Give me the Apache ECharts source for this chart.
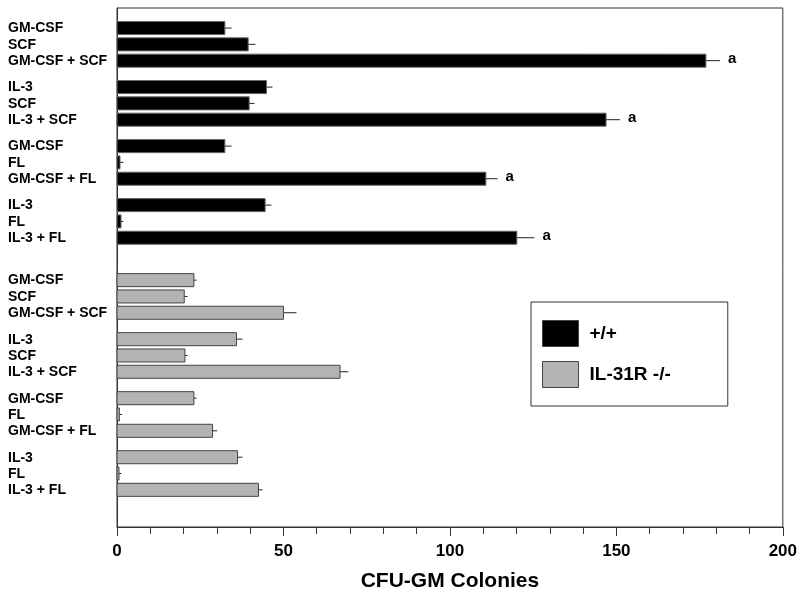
<!DOCTYPE html>
<html>
<head>
<meta charset="utf-8">
<script src="https://cdn.jsdelivr.net/npm/echarts@6/dist/echarts.min.js"></script>
<style>
  html, body { margin: 0; padding: 0; background: #fff; }
  #chart { width: 800px; height: 600px; }
</style>
</head>
<body>
<div id="chart"></div>
<script>
  // row labels, same for both genotypes (4 groups of 3)
  const rowLabels = ['GM-CSF', 'SCF', 'GM-CSF + SCF', 'IL-3', 'SCF', 'IL-3 + SCF',
    'GM-CSF', 'FL', 'GM-CSF + FL', 'IL-3', 'FL', 'IL-3 + FL'];
  const wtValues = [32.4, 39.4, 176.9, 44.9, 39.7, 146.9, 32.4, 0.9, 110.8, 44.5, 1.2, 120.1];
  const wtErrors = [2.0, 2.2, 4.2, 1.8, 1.6, 4.2, 2.0, 1.0, 3.5, 1.9, 0.7, 5.3];
  const wtMarks = ['', '', 'a', '', '', 'a', '', '', 'a', '', '', 'a'];
  const koValues = [23.1, 20.2, 50.0, 35.9, 20.4, 67.0, 23.1, 0.7, 28.7, 36.2, 0.6, 42.5];
  const koErrors = [0.8, 1.0, 3.9, 1.8, 0.8, 2.5, 0.8, 0.8, 1.4, 1.5, 0.7, 1.2];
  const koMarks = ['', '', '', '', '', '', '', '', '', '', '', ''];
  const seriesNames = ['+/+', 'IL-31R -/-'];
  const xTicks = [0, 50, 100, 150, 200];

  // layout of the rows along the (hidden) y value axis
  const groupStep = 3.62;
  const setStep = 15.46;
  const font = '"Liberation Sans", Arial, sans-serif';

  function rowPos(set, i) {
    return set * setStep + Math.floor(i / 3) * groupStep + (i % 3);
  }

  function buildData(set, values, errors) {
    return values.map((v, i) => [v, rowPos(set, i), errors[i]]);
  }

  function makeRender(fill, stroke, marks) {
    return function (params, api) {
      const v = api.value(0), y = api.value(1), e = api.value(2);
      const label = rowLabels[params.dataIndex];
      const mark = marks[params.dataIndex];
      const p0 = api.coord([0, y]);
      const p1 = api.coord([v, y]);
      const p2 = api.coord([v + e, y]);
      const h = api.size([0, 0.8])[1];
      const children = [
        { type: 'line', shape: { x1: p1[0], y1: p1[1], x2: p2[0], y2: p2[1] },
          style: { stroke: '#222', lineWidth: 1 } },
        { type: 'rect', shape: { x: p0[0], y: p0[1] - h / 2, width: p1[0] - p0[0], height: h },
          style: { fill: fill, stroke: stroke, lineWidth: 1 } },
        { type: 'text', x: 8, y: p0[1] + 0.5,
          style: { text: label, fill: '#000', font: 'bold 14px ' + font, verticalAlign: 'middle', align: 'left' } }
      ];
      if (mark) {
        children.push({ type: 'text', x: p2[0] + 8, y: p2[1] - 2,
          style: { text: mark, fill: '#000', font: 'bold 15px ' + font, verticalAlign: 'middle', align: 'left' } });
      }
      return { type: 'group', children: children };
    };
  }

  const chart = echarts.init(document.getElementById('chart'));
  chart.setOption({
    animation: false,
    backgroundColor: '#fff',
    grid: { left: 117, right: 17, top: 8, bottom: 73, show: true, borderColor: '#333', borderWidth: 1 },
    legend: {
      data: seriesNames,
      orient: 'vertical',
      left: 531, top: 302,
      itemWidth: 36, itemHeight: 26, itemGap: 14,
      padding: [18, 57, 18, 11],
      borderColor: '#333', borderWidth: 1,
      icon: 'rect',
      itemStyle: { borderColor: '#444', borderWidth: 1 },
      textStyle: { fontFamily: font, fontWeight: 'bold', fontSize: 19, color: '#000', padding: [0, 0, 0, 6] }
    },
    xAxis: {
      type: 'value', min: xTicks[0], max: xTicks[xTicks.length - 1], interval: 50,
      axisLine: { show: true, onZero: false, lineStyle: { color: '#333' } },
      axisTick: { show: true, length: 9, lineStyle: { color: '#333' } },
      minorTick: { show: true, splitNumber: 5, length: 7, lineStyle: { color: '#333' } },
      splitLine: { show: false },
      axisLabel: { margin: 16, color: '#000', fontFamily: font, fontWeight: 'bold', fontSize: 17 },
      name: 'CFU-GM Colonies', nameLocation: 'middle', nameGap: 44,
      nameTextStyle: { color: '#000', fontFamily: font, fontWeight: 'bold', fontSize: 21 }
    },
    yAxis: {
      type: 'value', inverse: true, min: -1.23, max: 30.6,
      axisLine: { show: true, onZero: false, lineStyle: { color: '#333' } },
      axisTick: { show: false }, axisLabel: { show: false }, splitLine: { show: false }
    },
    series: [
      { name: seriesNames[0], type: 'custom', itemStyle: { color: '#000' },
        encode: { x: 0, y: 1 }, renderItem: makeRender('#000', '#666', wtMarks),
        data: buildData(0, wtValues, wtErrors) },
      { name: seriesNames[1], type: 'custom', itemStyle: { color: '#b3b3b3' },
        encode: { x: 0, y: 1 }, renderItem: makeRender('#b3b3b3', '#444', koMarks),
        data: buildData(1, koValues, koErrors) }
    ]
  });
</script>
</body>
</html>
